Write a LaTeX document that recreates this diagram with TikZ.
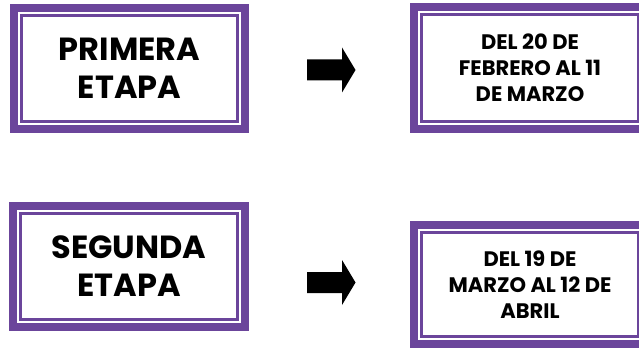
\documentclass[tikz,border=0pt]{standalone}
\usepackage{fontspec}
\setmainfont{Poppins}
\definecolor{etapa}{RGB}{107,69,155}
\begin{document}
\begin{tikzpicture}[x=1pt,y=1pt,
  stagebox/.style={draw=etapa, line width=8pt, rectangle, inner sep=0pt, fill=white, align=center},
  bigtext/.style={font=\fontsize{32}{38}\selectfont\bfseries},
  smalltext/.style={font=\fontsize{21}{26}\selectfont\bfseries},
  innerline/.style={draw=etapa, line width=2.2pt},
  blockarrow/.style={fill=black}]
\useasboundingbox (0,0) rectangle (639,348);
\node[stagebox, bigtext, minimum width=231pt, minimum height=121pt] (p1) at (129.5,279.5) {PRIMERA\\ETAPA};
\node[stagebox, smalltext, minimum width=232pt, minimum height=122pt] (f1) at (530,280) {DEL 20 DE\\FEBRERO AL 11\\DE MARZO};
\node[stagebox, bigtext, minimum width=232pt, minimum height=121pt] (p2) at (129,81.5) {SEGUNDA\\ETAPA};
\node[stagebox, smalltext, minimum width=232pt, minimum height=119pt] (f2) at (530,63.5) {DEL 19 DE\\MARZO AL 12 DE\\ABRIL};
\draw[innerline] ([shift={(11.5pt,-11.5pt)}]p1.north west) rectangle ([shift={(-11.5pt,11.5pt)}]p1.south east);
\draw[innerline] ([shift={(11.5pt,-11.5pt)}]f1.north west) rectangle ([shift={(-11.5pt,11.5pt)}]f1.south east);
\draw[innerline] ([shift={(11.5pt,-11.5pt)}]p2.north west) rectangle ([shift={(-11.5pt,11.5pt)}]p2.south east);
\draw[innerline] ([shift={(11.5pt,-11.5pt)}]f2.north west) rectangle ([shift={(-11.5pt,11.5pt)}]f2.south east);
\coordinate (a1) at (307,278);
\coordinate (a2) at (307,65.5);
\fill[blockarrow] ([yshift=10.5pt]a1) -- ++(35,0) -- ++(0,12) -- ++(13.5,-22.5) -- ++(-13.5,-22.5) -- ++(0,12) -- ++(-35,0) -- cycle;
\fill[blockarrow] ([yshift=10.5pt]a2) -- ++(35,0) -- ++(0,12) -- ++(13.5,-22.5) -- ++(-13.5,-22.5) -- ++(0,12) -- ++(-35,0) -- cycle;
\end{tikzpicture}
\end{document}
